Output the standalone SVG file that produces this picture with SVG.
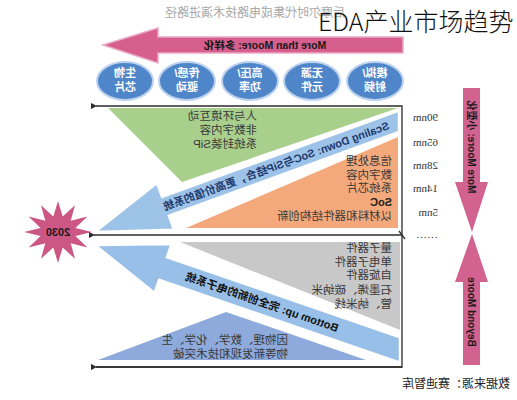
<svg xmlns="http://www.w3.org/2000/svg" width="517" height="400" viewBox="0 0 517 400">
<style>
.cj{font-family:'Noto Sans CJK SC','Liberation Sans',sans-serif;}
.ls{font-family:'Liberation Sans','Noto Sans CJK SC',sans-serif;}
.lb{font-family:'Liberation Sans','Noto Sans CJK SC',sans-serif;font-weight:bold;}
.blk{font-size:11.5px;fill:#3a3a3a;}
.ell{font-size:11px;fill:#ffffff;font-weight:bold;}
.nm{font-family:'Liberation Serif',serif;font-size:11px;fill:#333;}
.frame{stroke:#2b2b2b;stroke-width:1.3;fill:none;}
.band{stroke:#ffffff;stroke-width:2.5;}
.oval{fill:#4f86c9;stroke:#bcd2ee;stroke-width:2;}
</style>
<defs>
<marker id="ah" viewBox="0 0 6 6" refX="1" refY="3" markerWidth="5" markerHeight="5" orient="auto-start-reverse">
<path d="M0,3 L6,0 L6,6 Z" fill="#2b2b2b"/>
</marker>
</defs>
<rect width="517" height="400" fill="#ffffff"/>

<!-- caption -->
<text class="cj" font-size="12" fill="#a8a8a8" transform="translate(345,17) scale(-1,1)">后摩尔时代集成电路技术演进路径</text>

<!-- More than Moore arrow -->
<g id="more-than-moore">
<polygon points="103,45 158,28 158,37 403,37 403,53 158,53 158,63" fill="#d65f8e" stroke="#eaa9c4" stroke-width="1.5"/>
<text class="lb" font-size="10.5" fill="#1a1a1a" text-anchor="middle" transform="translate(265,49) scale(-1,1)">More than Moore: 多样化</text>
</g>

<!-- ellipses -->
<g id="bio">
<ellipse class="oval" cx="125" cy="81" rx="28" ry="19"/>
<text class="ls ell" text-anchor="middle" transform="translate(125,77) scale(-1,1)"><tspan x="0" y="0">生物</tspan><tspan x="0" y="14">芯片</tspan></text>
</g>
<g id="sensor">
<ellipse class="oval" cx="187" cy="81" rx="28" ry="19"/>
<text class="ls ell" text-anchor="middle" transform="translate(187,77) scale(-1,1)"><tspan x="0" y="0">传感/</tspan><tspan x="0" y="14">驱动</tspan></text>
</g>
<g id="power">
<ellipse class="oval" cx="250" cy="81" rx="28" ry="19"/>
<text class="ls ell" text-anchor="middle" transform="translate(250,77) scale(-1,1)"><tspan x="0" y="0">高压/</tspan><tspan x="0" y="14">功率</tspan></text>
</g>
<g id="passive">
<ellipse class="oval" cx="312" cy="81" rx="28" ry="19"/>
<text class="ls ell" text-anchor="middle" transform="translate(312,77) scale(-1,1)"><tspan x="0" y="0">无源</tspan><tspan x="0" y="14">元件</tspan></text>
</g>
<g id="analog">
<ellipse class="oval" cx="375" cy="81" rx="28" ry="19"/>
<text class="ls ell" text-anchor="middle" transform="translate(375,77) scale(-1,1)"><tspan x="0" y="0">模拟/</tspan><tspan x="0" y="14">射频</tspan></text>
</g>

<!-- regions -->
<g id="green">
<polygon points="108,108 398,108 182,182" fill="#a9cf8d"/>
<text class="ls blk" transform="translate(257,120) scale(-1,1)"><tspan x="0" y="0">人与环境互动</tspan><tspan x="0" y="14">非数字内容</tspan><tspan x="0" y="28">系统封装SiP</tspan></text>
</g>
<g id="orange">
<polygon points="398,137 398,228 186,228" fill="#f4a97c"/>
<text class="ls blk" transform="translate(392,165) scale(-1,1)"><tspan x="0" y="0">信息处理</tspan><tspan x="0" y="13.5">数字内容</tspan><tspan x="0" y="27">系统芯片</tspan><tspan x="0" y="41" class="lb" font-size="11" fill="#222">SoC</tspan><tspan x="0" y="55">以材料和器件结构创新</tspan></text>
</g>
<g id="gray">
<polygon points="180,242 400,242 400,330" fill="#c8c8c8"/>
<text class="ls blk" transform="translate(392,252) scale(-1,1)"><tspan x="0" y="0">量子器件</tspan><tspan x="0" y="13.5">单电子器件</tspan><tspan x="0" y="27">自旋器件</tspan><tspan x="0" y="41.5">石墨烯、碳纳米</tspan><tspan x="0" y="55.5">管、纳米线</tspan></text>
</g>
<g id="blue-base">
<polygon points="98,360 226,312 366,360" fill="#8eaadc"/>
<text class="ls blk" transform="translate(288,344) scale(-1,1)"><tspan x="0" y="0">因物理、数学、化学、生</tspan><tspan x="0" y="14">物等新发现和技术突破</tspan></text>
</g>

<!-- band arrows -->
<g id="scaling-down">
<polygon class="band" points="95,232 156.9,182.9 162.1,197 399,110.7 399,132 168.9,215.8 174,229.8" fill="#9ec3e8"/>
<text class="lb" font-size="11" fill="#1f3a6e" text-anchor="middle" dy="4" transform="translate(276,166) scale(-1,1) rotate(20)">Scaling Down: SoC与SiP结合，更高价值的系统</text>
</g>
<g id="bottom-up">
<polygon class="band" points="95,245 171.5,243.9 167,257.1 400,337.3 400,362.7 159.2,279.8 154.6,293" fill="#98bfe8"/>
<text class="lb" font-size="11" fill="#111" text-anchor="middle" dy="4" transform="translate(262,302) scale(-1,1) rotate(-19)">Bottom up: 完全创新的电子系统</text>
</g>

<!-- star -->
<g id="y2030">
<polygon points="58,201 62.7,216.5 75,205.2 70.7,220.7 87.4,216.5 75.4,227.9 92,232 75.4,236.1 87.4,247.5 70.7,243.3 75,258.8 62.7,247.5 58,263 53.3,247.5 41,258.8 45.3,243.3 28.6,247.5 40.6,236.1 24,232 40.6,227.9 28.6,216.5 45.3,220.7 41,205.2 53.3,216.5" fill="#cc5784"/>
<text class="lb" font-size="11" fill="#1a1a1a" text-anchor="middle" transform="translate(58,236) scale(-1,1)">2030</text>
</g>

<!-- frame / connectors -->
<g id="connectors">
<polyline class="frame" points="96,106 402,106 402,367 96,367" marker-start="url(#ah)"/>
<line class="frame" x1="96" y1="367" x2="402" y2="367" marker-start="url(#ah)"/>
<line class="frame" x1="94" y1="235" x2="402" y2="235" marker-start="url(#ah)"/>
<line class="frame" x1="399" y1="231" x2="405" y2="239"/>
</g>

<!-- nm scale -->
<g id="nodes-nm">
<text class="nm" transform="translate(438,121) scale(-1,1)">90nm</text>
<text class="nm" transform="translate(438,146) scale(-1,1)">65nm</text>
<text class="nm" transform="translate(438,169) scale(-1,1)">28nm</text>
<text class="nm" transform="translate(438,192) scale(-1,1)">14nm</text>
<text class="nm" transform="translate(438,216) scale(-1,1)">5nm</text>
<text class="nm" transform="translate(438,238) scale(-1,1)">……</text>
</g>

<!-- vertical arrows -->
<g id="more-moore">
<polygon points="463,88 480,88 480,182 488,182 472,232 455,182 463,182" fill="#d2628f"/>
<text class="lb" font-size="10" fill="#1a1a1a" text-anchor="middle" dy="3.5" transform="translate(471.5,147) scale(-1,1) rotate(-90)">More Moore: 小型化</text>
</g>
<g id="beyond-moore">
<polygon points="472,234 488,282 480,282 480,365 463,365 463,282 455,282" fill="#d2628f"/>
<text class="lb" font-size="10" fill="#1a1a1a" text-anchor="middle" dy="3.5" transform="translate(471.5,312) scale(-1,1) rotate(-90)">Beyond Moore</text>
</g>

<!-- source -->
<text class="cj" font-size="12" fill="#222" transform="translate(510,388) scale(-1,1)">数据来源：赛迪智库</text>

<!-- title -->
<text class="cj" x="318" y="31" font-size="25" font-weight="300" fill="#111">EDA产业市场趋势</text>
</svg>
